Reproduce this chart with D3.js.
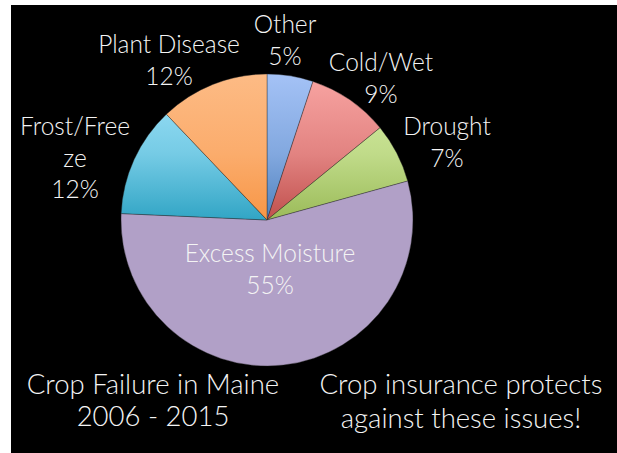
<!DOCTYPE html>
<html><head><meta charset="utf-8">
<script src="https://cdn.jsdelivr.net/npm/d3@7"></script>
<style>html,body{margin:0;padding:0;background:#fff;}svg{display:block;}</style>
</head><body>
<script>
const categories = ["Other", "Cold/Wet", "Drought", "Excess Moisture", "Frost/Freeze", "Plant Disease"];
const values = [5.1, 9.0, 6.6, 55.0, 12.2, 12.1];
const labelLines = [["Other"], ["Cold/Wet"], ["Drought"], ["Excess Moisture"], ["Frost/Free", "ze"], ["Plant Disease"]];
const baseColors = ["#4f81bd", "#c0504d", "#9bbb59", "#b1a0c7", "#31a5c5", "#f79646"];
const lightColors = ["#a4c2f6", "#f9a5a3", "#d9f1a9", "#b1a0c7", "#a3e4fb", "#fdbb85"];
const titleLines = ["Crop Failure in Maine", "2006 - 2015"];
const noteLines = ["Crop insurance protects", "against these issues!"];

const W = 617, H = 453;
const cx = 267, cy = 220, R = 146;
const font = "Lato, 'Open Sans', sans-serif";

const svg = d3.select("body").append("svg").attr("width", W).attr("height", H);
svg.append("rect").attr("x", 11).attr("y", 5).attr("width", W - 11).attr("height", H - 5).attr("fill", "#000");

const defs = svg.append("defs");
baseColors.forEach((c, i) => {
  const g = defs.append("linearGradient").attr("id", "g" + i)
    .attr("gradientUnits", "userSpaceOnUse")
    .attr("x1", 0).attr("x2", 0).attr("y1", -R).attr("y2", 0);
  g.append("stop").attr("offset", 0).attr("stop-color", lightColors[i]);
  g.append("stop").attr("offset", 0.55).attr("stop-color", d3.interpolateRgb(lightColors[i], c)(0.4));
  g.append("stop").attr("offset", 1).attr("stop-color", c);
});

const pie = d3.pie().sort(null).value(d => d)(values);
const arc = d3.arc().innerRadius(0).outerRadius(R);
const gp = svg.append("g").attr("transform", `translate(${cx},${cy})`);
gp.selectAll("path").data(pie).join("path")
  .attr("d", arc)
  .attr("fill", (d, i) => `url(#g${i})`)
  .attr("stroke", "rgba(40,40,40,0.55)")
  .attr("stroke-width", 0.7);

// label anchor positions (centre x, first baseline y)
const labelPos = [[285, 33], [381, 71], [447, 135], [270, 262], [75, 135], [169, 53]];
const lineH = 31.5;
const total = d3.sum(values);
labelLines.forEach((lines, i) => {
  const all = lines.concat([Math.round(values[i] / total * 100) + "%"]);
  const t = svg.append("text")
    .attr("x", labelPos[i][0]).attr("y", labelPos[i][1])
    .attr("text-anchor", "middle")
    .attr("font-family", font).attr("font-weight", 300)
    .attr("font-size", 24.5).attr("fill", "#f4f4f4");
  all.forEach((s, k) => t.append("tspan").attr("x", labelPos[i][0]).attr("dy", k ? lineH : 0).text(s));
});

function block(lines, x, y, dy) {
  const t = svg.append("text").attr("x", x).attr("y", y)
    .attr("text-anchor", "middle")
    .attr("font-family", font).attr("font-weight", 300)
    .attr("font-size", 27.5).attr("fill", "#f4f4f4");
  lines.forEach((s, k) => t.append("tspan").attr("x", x).attr("dy", k ? dy : 0).text(s));
}
block(titleLines, 153, 394, 32);
block(noteLines, 461, 394, 34);
</script>
</body></html>
